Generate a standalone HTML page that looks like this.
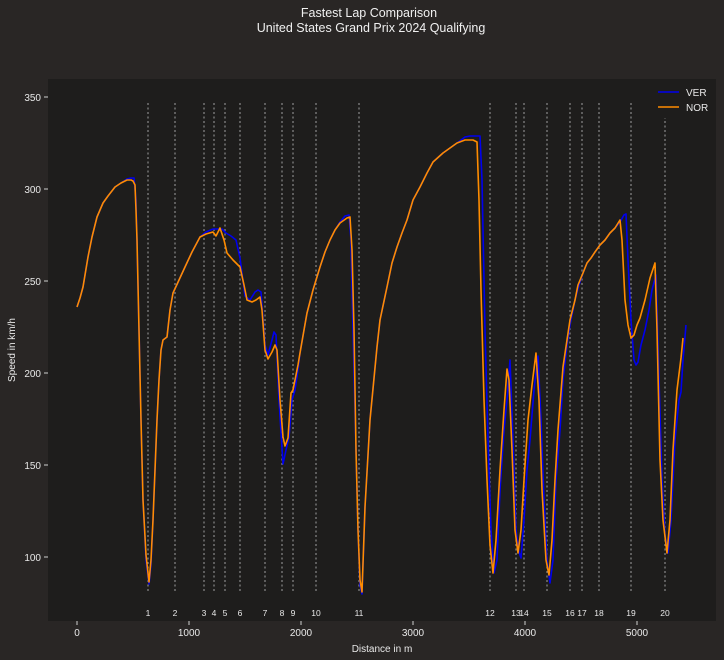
<!DOCTYPE html>
<html><head><meta charset="utf-8"><style>
html,body{margin:0;padding:0;background:#292625;}
svg{display:block;font-family:"Liberation Sans","DejaVu Sans",sans-serif;}
</style></head><body>
<svg width="724" height="660" viewBox="0 0 724 660" xmlns="http://www.w3.org/2000/svg">
<rect width="724" height="660" fill="#292625"/>
<text x="369" y="17" fill="#f0f0f0" font-size="12.5" text-anchor="middle">Fastest Lap Comparison</text>
<text x="371" y="32" fill="#f0f0f0" font-size="12.5" text-anchor="middle">United States Grand Prix 2024 Qualifying</text>
<rect x="48" y="79" width="668" height="542" fill="#1e1d1c"/>
<g stroke="#8a8a8a" stroke-width="1.2" stroke-dasharray="2,2.5">
<line x1="148" y1="103" x2="148" y2="592"/><line x1="175" y1="103" x2="175" y2="592"/><line x1="204" y1="103" x2="204" y2="592"/><line x1="214" y1="103" x2="214" y2="592"/><line x1="225" y1="103" x2="225" y2="592"/><line x1="240" y1="103" x2="240" y2="592"/><line x1="265" y1="103" x2="265" y2="592"/><line x1="282" y1="103" x2="282" y2="592"/><line x1="293" y1="103" x2="293" y2="592"/><line x1="316" y1="103" x2="316" y2="592"/><line x1="359" y1="103" x2="359" y2="592"/><line x1="490" y1="103" x2="490" y2="592"/><line x1="516" y1="103" x2="516" y2="592"/><line x1="524" y1="103" x2="524" y2="592"/><line x1="547" y1="103" x2="547" y2="592"/><line x1="570" y1="103" x2="570" y2="592"/><line x1="582" y1="103" x2="582" y2="592"/><line x1="599" y1="103" x2="599" y2="592"/><line x1="631" y1="103" x2="631" y2="592"/><line x1="665" y1="103" x2="665" y2="592"/>
</g>
<g fill="#e8e8e8" font-size="8.5" text-anchor="middle">
<text x="148" y="616">1</text><text x="175" y="616">2</text><text x="204" y="616">3</text><text x="214" y="616">4</text><text x="225" y="616">5</text><text x="240" y="616">6</text><text x="265" y="616">7</text><text x="282" y="616">8</text><text x="293" y="616">9</text><text x="316" y="616">10</text><text x="359" y="616">11</text><text x="490" y="616">12</text><text x="516" y="616">13</text><text x="524" y="616">14</text><text x="547" y="616">15</text><text x="570" y="616">16</text><text x="582" y="616">17</text><text x="599" y="616">18</text><text x="631" y="616">19</text><text x="665" y="616">20</text>
</g>
<polyline fill="none" stroke="#0000ee" stroke-width="1.6" stroke-linejoin="round" points="77,307 80,298 83,287 88,257 92,237 97,217 103,203 108,196 115,187 121,183 127,179 131,178 134,178 136,200 137,240 139,330 141,420 143,500 146,560 149,584 151,565 153,520 155,470 157,420 159,380 161,350 163,340 167,337 170,310 173,293 179,280 185,267 192,252 200,237 206,232 213,229 218,229 222,229 226,233 231,236 236,240 240,258 245,296 250,300 255,292 258,290 261,292 265,345 268,355 272,340 274,332 276,335 279,400 283,464 286,450 289,437 292,400 295,390 298,370 300,353 304,330 307,313 313,290 320,267 325,252 330,240 335,230 340,222 345,216 349,215 351,240 353,330 356,450 358,530 360,585 362,594 365,507 370,420 377,347 380,320 387,287 392,263 397,247 402,233 407,220 413,200 420,187 427,173 433,162 443,153 450,148 457,143 465,137 470,136 480,136 482,180 485,330 488,440 491,530 494,573 497,560 500,490 504,430 507,400 510,360 513,440 516,530 519,552 521,558 524,520 527,470 530,440 534,390 538,356 541,420 544,500 547,560 550,583 553,560 556,480 560,430 563,380 567,345 570,325 575,300 579,285 583,273 587,263 591,258 595,252 600,245 605,240 610,233 615,228 620,222 624,215 626,214 628,260 631,320 634,360 636,365 638,362 641,345 645,330 649,310 652,290 656,275 659,380 662,480 665,535 668,553 671,520 675,440 679,400 681,392 683,360 686,325"/>
<polyline fill="none" stroke="#ff8c00" stroke-width="1.6" stroke-linejoin="round" points="77,307 80,298 83,287 88,257 92,237 97,217 103,203 108,196 115,187 121,183 127,180 131,180 133,181 135,185 136,210 137,240 139,330 141,420 143,500 146,555 149,582 151,560 153,520 155,470 157,420 159,380 161,350 163,340 167,337 170,310 173,293 179,280 185,267 192,252 200,237 206,234 213,232 216,236 220,228 224,240 227,253 233,260 240,267 244,285 247,300 252,302 256,300 260,297 262,310 265,350 268,359 272,352 275,345 277,350 280,400 283,437 285,446 288,438 291,393 293,390 296,375 298,365 300,353 304,330 307,313 313,290 320,267 325,252 330,240 335,230 340,223 347,218 350,217 352,250 354,330 356,450 358,530 360,580 362,592 365,507 370,420 377,347 380,320 387,287 392,263 397,247 402,233 407,220 413,200 420,187 427,173 433,162 443,153 450,148 457,143 465,140 473,140 477,142 479,200 481,290 484,400 487,480 490,545 493,573 496,540 500,470 504,410 507,369 509,380 512,450 515,530 518,553 521,530 524,480 528,420 532,385 536,353 539,400 542,490 546,560 549,575 552,540 555,480 558,430 563,367 567,340 570,320 575,300 578,285 583,273 587,263 591,258 595,252 600,245 605,240 610,233 615,228 620,220 622,240 625,300 628,325 631,338 634,335 637,325 640,318 645,300 650,278 655,263 657,330 660,460 663,520 667,553 670,520 673,450 677,390 681,358 683,338"/>
<rect x="654" y="84" width="56" height="34" fill="#1e1d1c"/>
<line x1="658" y1="92" x2="679" y2="92" stroke="#0000ee" stroke-width="1.6"/>
<line x1="658" y1="107" x2="679" y2="107" stroke="#ff8c00" stroke-width="1.6"/>
<text x="686" y="96" fill="#e8e8e8" font-size="10">VER</text>
<text x="686" y="111" fill="#e8e8e8" font-size="10">NOR</text>
<g stroke="#d0d0d0" stroke-width="1">
<line x1="44" y1="97" x2="48" y2="97"/><line x1="44" y1="189" x2="48" y2="189"/><line x1="44" y1="281" x2="48" y2="281"/><line x1="44" y1="373" x2="48" y2="373"/><line x1="44" y1="465" x2="48" y2="465"/><line x1="44" y1="557" x2="48" y2="557"/>
<line x1="77" y1="621" x2="77" y2="625"/><line x1="189" y1="621" x2="189" y2="625"/><line x1="301" y1="621" x2="301" y2="625"/><line x1="413" y1="621" x2="413" y2="625"/><line x1="525" y1="621" x2="525" y2="625"/><line x1="637" y1="621" x2="637" y2="625"/>
</g>
<g fill="#e8e8e8" font-size="10" text-anchor="end">
<text x="41" y="101">350</text><text x="41" y="193">300</text><text x="41" y="285">250</text><text x="41" y="377">200</text><text x="41" y="469">150</text><text x="41" y="561">100</text>
</g>
<g fill="#e8e8e8" font-size="10" text-anchor="middle">
<text x="77" y="636">0</text><text x="189" y="636">1000</text><text x="301" y="636">2000</text><text x="413" y="636">3000</text><text x="525" y="636">4000</text><text x="637" y="636">5000</text>
<text x="382" y="652">Distance in m</text>
<text transform="translate(15,350) rotate(-90)">Speed in km/h</text>
</g>
</svg>
</body></html>
